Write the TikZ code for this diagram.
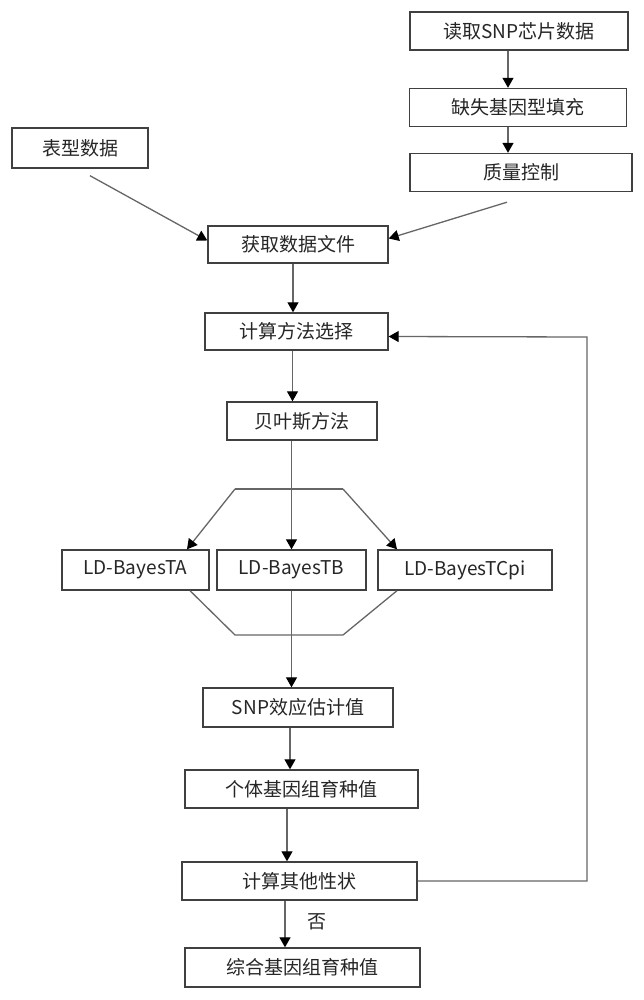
\documentclass[tikz,border=0pt]{standalone}
\usepackage{fontspec}
\newfontfamily\cjk{Noto Sans CJK SC}
\usetikzlibrary{arrows.meta}
\tikzset{
  box/.style={draw=black!75, line width=1.4pt, fill=white, inner sep=0pt,
    minimum height=38pt, text=black!85, font=\cjk\fontsize{19}{19}\selectfont},
  line/.style={draw=black!60, line width=1.3pt},
  arr/.style={line, -{Triangle[width=11pt,length=10pt,color=black]}},
  lbl/.style={text=black!85, font=\cjk\fontsize{19}{19}\selectfont},
}
\begin{document}
\begin{tikzpicture}[x=1pt, y=-1pt]
  \useasboundingbox[fill=white] (0,0) rectangle (644,1000);
  % Data input
  \node[box, minimum width=218pt] (read) at (519,31) {读取SNP芯片数据};
  \node[box, minimum width=217pt] (fill) at (518,107.5) {缺失基因型填充};
  \node[box, minimum width=222pt] (qc) at (521,172.5) {质量控制};
  \node[box, minimum width=136pt, minimum height=40pt] (pheno) at (80,148) {表型数据};
  \node[box, minimum width=180pt, minimum height=37pt] (getdata) at (298,244.5) {获取数据文件};
  \draw[arr] ([xshift=-11pt]read.south) -- ([xshift=-10pt]fill.north);
  \draw[arr] ([xshift=-10pt]fill.south) -- ([xshift=-13pt]qc.north);
  \draw[arr] ([xshift=10pt,yshift=-7pt]pheno.south) -- ([yshift=4pt]getdata.west);
  \draw[arr] ([xshift=-14pt,yshift=-10pt]qc.south) -- ([yshift=6pt]getdata.east);
  % Method choice
  \node[box, minimum width=183pt, minimum height=37pt] (method) at (296.5,331.5) {计算方法选择};
  \node[box, minimum width=150pt] (bayes) at (302,421) {贝叶斯方法};
  \draw[arr] ([xshift=-5pt]getdata.south) -- ([xshift=-5pt]getdata.south |- method.north);
  \draw[arr] ([xshift=-4pt]method.south) -- ([xshift=-4pt]method.south |- bayes.north);
  % Three models
  \node[box, minimum width=147pt, minimum height=40pt] (ta) at (135.5,570) {LD-BayesTA};
  \node[box, minimum width=149pt, minimum height=40pt] (tb) at (291.5,570) {LD-BayesTB};
  \node[box, minimum width=174pt, minimum height=40pt] (tc) at (465,570) {LD-BayesTCpi};
  \coordinate (hl) at (235,489);
  \coordinate (hr) at (343,489);
  \coordinate (bl) at (235,635);
  \coordinate (br) at (343,635);
  \draw[line] (hl) -- (hr);
  \draw[arr] (hl) -- ([xshift=51.5pt]ta.north);
  \draw[arr] (hr) -- ([xshift=-68pt]tc.north);
  \draw[arr] (bayes.south -| tb.north) -- (tb.north);
  \draw[line] ([xshift=54.5pt]ta.south) -- (bl) -- (br) -- ([xshift=-68pt]tc.south);
  % Results
  \node[box, minimum width=190pt, minimum height=39pt] (snp) at (298,707.5) {SNP效应估计值};
  \node[box, minimum width=233pt] (indiv) at (301.5,789) {个体基因组育种值};
  \node[box, minimum width=235pt] (other) at (299.5,881) {计算其他性状};
  \node[box, minimum width=235pt, minimum height=39pt] (comb) at (302.5,967.5) {综合基因组育种值};
  \draw[arr] (tb.south) -- (tb.south |- snp.north);
  \draw[arr] ([xshift=-8pt]snp.south) -- ([xshift=-8pt]snp.south |- indiv.north);
  \draw[arr] ([xshift=-14.5pt]indiv.south) -- ([xshift=-14.5pt]indiv.south |- other.north);
  \draw[arr] ([xshift=-14.5pt]other.south) -- ([xshift=-14.5pt]other.south |- comb.north);
  \node[lbl] (no) at (317,922) {否};
  % Loop back
  \coordinate (back) at (587,337);
  \draw[arr] (other.east) -| (back) -- ([yshift=-5pt]method.east);
\end{tikzpicture}
\end{document}
